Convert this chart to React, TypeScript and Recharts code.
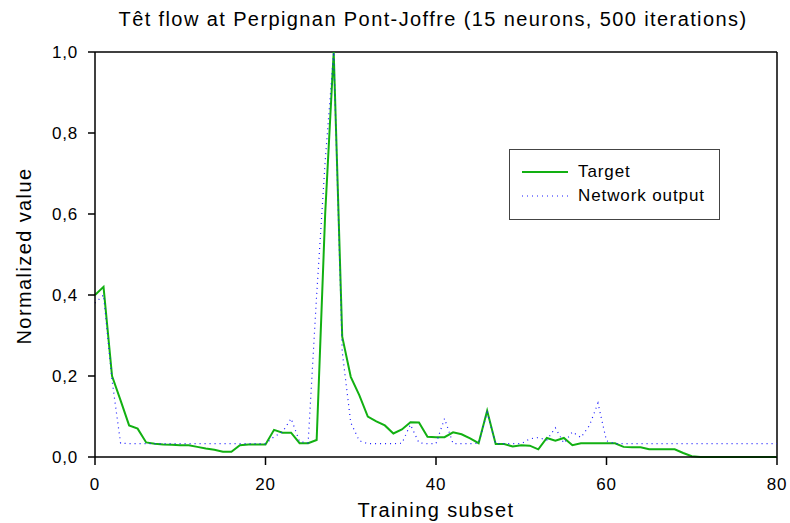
import { LineChart, Line, XAxis, YAxis, ReferenceLine } from 'recharts';

// values, one per training subset 0..80
const target = [
  0.40, 0.42, 0.20, 0.14, 0.078, 0.07, 0.036, 0.033, 0.031, 0.030,
  0.029, 0.029, 0.025, 0.021, 0.018, 0.013, 0.013, 0.029, 0.031, 0.031,
  0.031, 0.067, 0.060, 0.060, 0.034, 0.034, 0.042, 0.60, 1.0, 0.297,
  0.198, 0.153, 0.10, 0.088, 0.078, 0.058, 0.068, 0.086, 0.085, 0.050,
  0.049, 0.049, 0.061, 0.056, 0.046, 0.034, 0.114, 0.032, 0.032, 0.026,
  0.029, 0.028, 0.019, 0.047, 0.040, 0.047, 0.029, 0.034, 0.034, 0.034,
  0.034, 0.034, 0.025, 0.024, 0.024, 0.019, 0.019, 0.019, 0.019, 0.010,
  0.002, 0, 0, 0, 0, 0, 0, 0, 0, 0,
  0,
];

const network = [
  0.38, 0.40, 0.19, 0.034, 0.033, 0.033, 0.033, 0.033, 0.033, 0.033,
  0.033, 0.033, 0.033, 0.033, 0.033, 0.033, 0.033, 0.033, 0.033, 0.033,
  0.033, 0.05, 0.062, 0.095, 0.038, 0.035, 0.40, 0.73, 1.0, 0.26,
  0.085, 0.04, 0.033, 0.033, 0.033, 0.033, 0.034, 0.08, 0.035, 0.033,
  0.033, 0.095, 0.033, 0.033, 0.033, 0.034, 0.11, 0.033, 0.033, 0.033,
  0.033, 0.045, 0.048, 0.042, 0.072, 0.034, 0.062, 0.048, 0.078, 0.133,
  0.04, 0.033, 0.033, 0.033, 0.033, 0.033, 0.033, 0.033, 0.033, 0.033,
  0.033, 0.033, 0.033, 0.033, 0.033, 0.033, 0.033, 0.033, 0.033, 0.033,
  0.033,
];

const xTicks = [0, 20, 40, 60, 80];
const yTicks = [0, 0.2, 0.4, 0.6, 0.8, 1.0];

const rows = target.map((t, i) => ({ x: i, target: t, network: network[i] }));

const font = '"Liberation Sans", Arial, sans-serif';
const GREEN = '#12b012';
const BLUE = '#1a1aff';

function LegendBox() {
  return (
    <div
      style={{
        position: 'absolute',
        left: 509,
        top: 149,
        width: 211,
        height: 71,
        border: '1px solid #444',
        background: '#fff',
        fontFamily: font,
        fontSize: 17,
        letterSpacing: 0.9,
        color: '#000',
        boxSizing: 'border-box',
      }}
    >
      <div style={{ position: 'absolute', left: 12, top: 12, display: 'flex', alignItems: 'center' }}>
        <svg width={46} height={4}><line x1={0} y1={2} x2={46} y2={2} stroke={GREEN} strokeWidth={2} /></svg>
        <span style={{ marginLeft: 10, lineHeight: '20px' }}>Target</span>
      </div>
      <div style={{ position: 'absolute', left: 12, top: 36, display: 'flex', alignItems: 'center' }}>
        <svg width={46} height={4}><line x1={0} y1={2} x2={46} y2={2} stroke={BLUE} strokeWidth={1.2} strokeDasharray="1 4" /></svg>
        <span style={{ marginLeft: 10, lineHeight: '20px' }}>Network output</span>
      </div>
    </div>
  );
}

const fmt = (v: number) => v.toFixed(1).replace('.', ',');

export default function App() {
  return (
    <div style={{ position: 'absolute', left: 0, top: 0, width: 790, height: 523, background: '#fff' }}>
      <LineChart
        width={790}
        height={523}
        data={rows}
        margin={{ top: 52, right: 13, bottom: 16, left: 0 }}
        style={{ position: 'absolute', left: 0, top: 0 }}
      >
        <XAxis
          type="number"
          dataKey="x"
          domain={[0, 80]}
          ticks={xTicks}
          height={50}
          tickSize={8}
          tickMargin={13}
          stroke="#000"
          strokeWidth={1.5}
          tick={{ fill: '#000', fontFamily: font, fontSize: 17, letterSpacing: 0.8 }}
        />
        <YAxis
          type="number"
          domain={[0, 1]}
          ticks={yTicks}
          width={95}
          tickSize={7}
          tickMargin={10}
          tickFormatter={fmt}
          stroke="#000"
          strokeWidth={1.5}
          tick={{ fill: '#000', fontFamily: font, fontSize: 17, letterSpacing: 0.8 }}
        />
        <ReferenceLine y={1} stroke="#000" strokeWidth={1.5} />
        <ReferenceLine x={80} stroke="#000" strokeWidth={1.5} />
        <Line
          type="linear"
          dataKey="target"
          stroke={GREEN}
          strokeWidth={2}
          dot={false}
          isAnimationActive={false}
        />
        <Line
          type="linear"
          dataKey="network"
          stroke={BLUE}
          strokeWidth={1.2}
          strokeDasharray="1 4"
          dot={false}
          isAnimationActive={false}
        />
      </LineChart>
      <LegendBox />
      <div
        style={{
          position: 'absolute', left: 0, top: 9, width: 866, textAlign: 'center',
          fontFamily: font, fontSize: 20, letterSpacing: 1.4, lineHeight: '20px', color: '#000',
        }}
      >
        Têt flow at Perpignan Pont-Joffre (15 neurons, 500 iterations)
      </div>
      <div
        style={{
          position: 'absolute', left: 0, top: 500, width: 872, textAlign: 'center',
          fontFamily: font, fontSize: 20, letterSpacing: 1.4, lineHeight: '20px', color: '#000',
        }}
      >
        Training subset
      </div>
      <div style={{ position: 'absolute', left: 24, top: 256, width: 0, height: 0 }}>
        <div
          style={{
            position: 'absolute', left: -150, top: -10, width: 300, textAlign: 'center',
            transform: 'rotate(-90deg)', fontFamily: font, fontSize: 20, letterSpacing: 1.4,
            lineHeight: '20px', color: '#000', whiteSpace: 'nowrap',
          }}
        >
          Normalized value
        </div>
      </div>
    </div>
  );
}
